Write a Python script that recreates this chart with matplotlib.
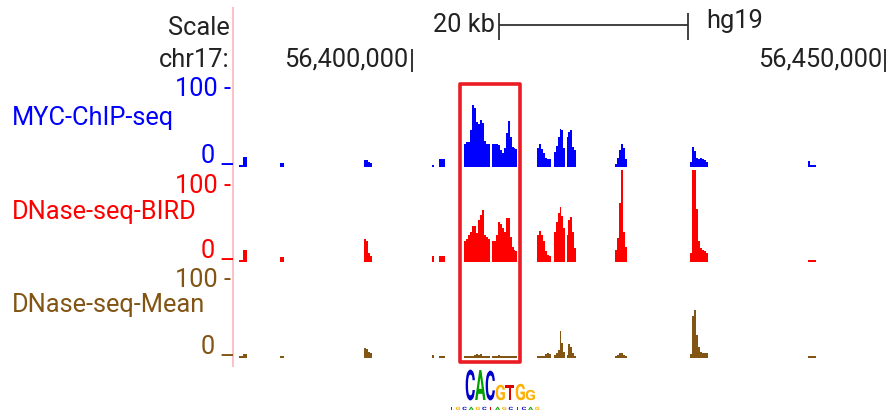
import numpy as np
import matplotlib.pyplot as plt
from matplotlib.patches import Rectangle
from matplotlib.patheffects import AbstractPathEffect
from matplotlib.transforms import Affine2D

plt.rcParams['font.family'] = ['Roboto', 'DejaVu Sans']

# hg19 chr17 window shown in the browser
view_start = 56381220
view_end = 56450210
bin_bp = 210
highlight = (56405070, 56411400)
scalebar = (56409180, 56429180)
pos_ticks = [56400000, 56450000]

# start (bp) of every covered stretch; values are per 210 bp bin
region_starts = [56381750, 56386080, 56394940, 56402110, 56402850, 56405490,
                 56408440, 56413190, 56414980, 56416350, 56421520, 56429430,
                 56441880]

myc_values = [
    [2, 2, 13, 13], [5, 5], [9, 9, 7, 5], [3], [10, 10, 10],
    [31, 33, 33, 49, 82, 78, 60, 57, 62, 58, 35, 31, 30],
    [30, 31, 30, 29, 22, 18, 25, 45, 61, 40, 27, 25, 24],
    [25, 31, 24, 18, 12, 11, 10], [20, 28, 40, 51, 49, 25],
    [40, 46, 49, 26, 22], [4, 12, 22, 31, 25, 10],
    [7, 26, 21, 12, 10, 12, 10, 9, 7], [8, 3, 3, 3]]

bird_values = [
    [3, 3, 16, 16], [7, 7], [30, 28, 12, 8], [8], [8, 8, 8],
    [27, 30, 36, 40, 48, 48, 38, 55, 62, 68, 36, 33, 30],
    [27, 28, 35, 52, 50, 45, 40, 58, 58, 33, 20, 16, 15],
    [35, 41, 36, 28, 15, 9, 8], [40, 53, 64, 72, 60, 45],
    [36, 55, 59, 40, 19], [16, 32, 78, 121, 40, 20],
    [12, 121, 121, 70, 27, 18, 16, 15, 12], [3, 3, 3, 3]]

mean_values = [
    [2, 2, 5, 5], [3, 3], [13, 12, 8, 6], [4], [3, 3, 3],
    [3, 3, 3, 3, 3, 4, 5, 4, 5, 3, 3, 3, 3],
    [3, 3, 3, 4, 3, 3, 3, 3, 3, 3, 3, 3, 3],
    [2, 3, 3, 3, 5, 6, 5], [4, 6, 10, 36, 20, 8],
    [4, 19, 14, 6, 3], [2, 4, 7, 7, 4, 2],
    [5, 55, 63, 30, 14, 8, 7, 7, 6], [3, 3, 3, 3]]

track_names = ['MYC-ChIP-seq', 'DNase-seq-BIRD', 'DNase-seq-Mean']
track_colors = ['#0000ff', '#ff0000', '#825514']

motif_letters = 'CACGTGG'
motif_heights = [30, 30, 29, 15, 15, 16, 10]
motif_minor = 'TGCAGCTAGCTCAG'
motif_colors = {'A': '#00a000', 'C': '#0000cc', 'G': '#ffb000', 'T': '#dd0000'}

W, H = 887, 415
FS = 18.3
fig = plt.figure(figsize=(W / 100, H / 100), dpi=100)


def px_axes(x0, y0, x1, y1):
    return fig.add_axes([x0 / W, 1 - y1 / H, (x1 - x0) / W, (y1 - y0) / H])


class Stretch(AbstractPathEffect):
    # stretch glyphs about the baseline origin (sequence logo letters)
    def __init__(self, sx, sy):
        super().__init__()
        self.sx, self.sy = sx, sy

    def draw_path(self, renderer, gc, tpath, affine, rgbFace=None):
        renderer.draw_path(gc, tpath, Affine2D().scale(self.sx, self.sy) + affine, rgbFace)


# signal tracks
track_rows = [(92, 167), (186, 262), (282, 358)]
for (top, base), vals, col in zip(track_rows, [myc_values, bird_values, mean_values], track_colors):
    ax = px_axes(234, top, W, base)
    for start, v in zip(region_starts, vals):
        x = start + np.arange(len(v) + 1) * bin_bp
        y = np.append(v, v[-1])
        ax.fill_between(x, y, step='post', color=col, lw=0, clip_on=False)
    ax.set_xlim(view_start, view_end)
    ax.set_ylim(0, 100)
    ax.axis('off')

# ruler + highlight, x in bp, y in pixel rows
axr = px_axes(234, 0, W, H)
axr.set_xlim(view_start, view_end)
axr.set_ylim(H, 0)
axr.axis('off')
axr.set_zorder(4)
axr.hlines(25, scalebar[0], scalebar[1], color='#333333', lw=1.3)
axr.vlines(scalebar, 13, 40, color='#333333', lw=1.3)
axr.annotate('20 kb', xy=(scalebar[0], 32), xytext=(-4, 0), textcoords='offset pixels',
             ha='right', va='baseline', fontsize=FS, color='#222222')
axr.annotate('hg19', xy=(scalebar[1], 28), xytext=(18, 0), textcoords='offset pixels',
             ha='left', va='baseline', fontsize=FS, color='#222222')
axr.vlines(pos_ticks, 49, 72, color='#222222', lw=1.3)
for p in pos_ticks:
    axr.annotate(f'{p:,}', xy=(p, 67), xytext=(-3, 0), textcoords='offset pixels',
                 ha='right', va='baseline', fontsize=FS, color='#222222')
axr.add_patch(Rectangle((highlight[0], 84), highlight[1] - highlight[0], 278,
                        fill=False, ec='#ea1c24', lw=2.6, joinstyle='round'))

# labels, pixel coordinates
ax0 = fig.add_axes([0, 0, 1, 1])
ax0.set_xlim(0, W)
ax0.set_ylim(H, 0)
ax0.axis('off')
ax0.set_zorder(5)
ax0.patch.set_visible(False)
ax0.plot([233, 233], [8, 366], color='#f9c4c8', lw=1.5)
ax0.text(230, 35, 'Scale', ha='right', va='baseline', fontsize=FS, color='#222222')
ax0.text(230, 67, 'chr17:', ha='right', va='baseline', fontsize=FS, color='#222222')

label_rows = [(96, 125, 163), (193, 219, 258), (287, 312, 354)]
for (y100, yname, y0), name, col in zip(label_rows, track_names, track_colors):
    ax0.text(231, y100, '100 -', ha='right', va='baseline', fontsize=FS, color=col)
    ax0.text(12, yname, name, ha='left', va='baseline', fontsize=FS, color=col)
    ax0.text(233, y0, '0 _', ha='right', va='baseline', fontsize=FS, color=col)

# motif logo
x = 465
for letter, h in zip(motif_letters, motif_heights):
    ax0.text(x, 400, letter, ha='left', va='baseline', fontsize=9.5, fontweight='bold',
             color=motif_colors[letter], path_effects=[Stretch(1.2, h / 9.4)])
    x += 10
for i, letter in enumerate(motif_minor):
    ax0.text(449 + i * 6.6, 410, letter, ha='left', va='baseline', fontsize=4,
             fontweight='bold', color=motif_colors[letter], path_effects=[Stretch(1.3, 0.8)])

fig.savefig('out.png', dpi=100)
